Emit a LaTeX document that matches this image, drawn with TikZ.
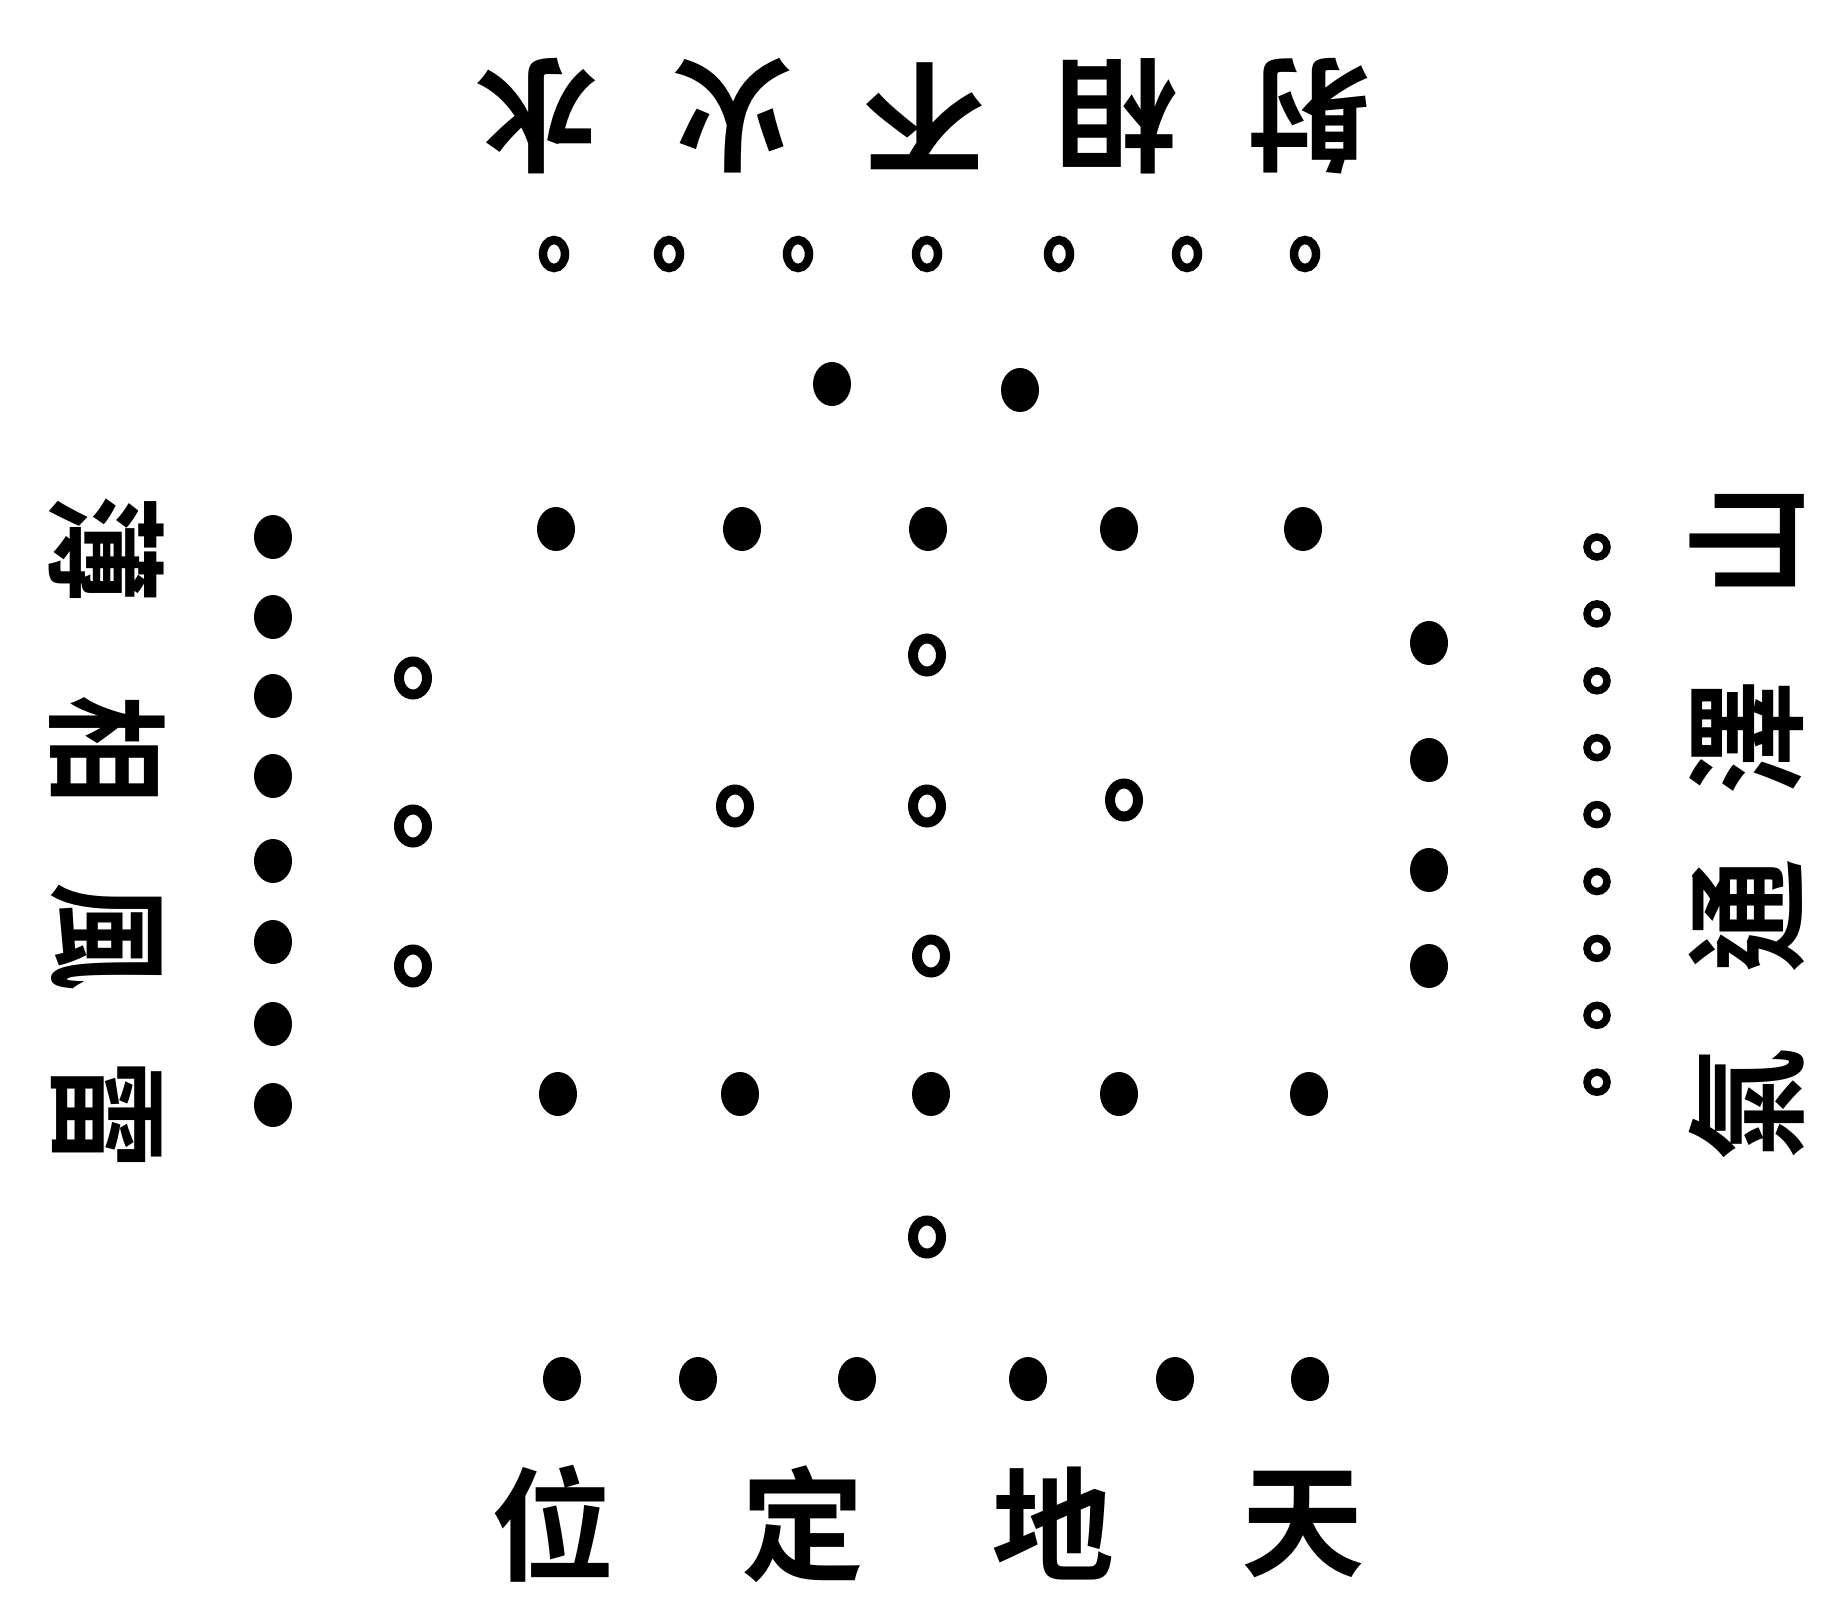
\documentclass[tikz,border=0pt]{standalone}
\usepackage{fontspec}
\newfontfamily\cjk{Noto Sans CJK TC Bold}
\usetikzlibrary{shapes.geometric}
\tikzset{
  yin/.style={ellipse, fill=black, inner sep=0pt, minimum width=7.6mm, minimum height=8.8mm},
  yang/.style={ellipse, draw=black, line width=2mm, fill=white, inner sep=0pt, minimum width=5.6mm, minimum height=6.6mm},
  yangs/.style={ellipse, draw=black, line width=1.7mm, fill=white, inner sep=0pt, minimum width=4.4mm, minimum height=5.6mm},
  glyph/.style={font=\cjk\fontsize{70pt}{70pt}\selectfont, inner sep=0pt},
}

\begin{document}
\begin{tikzpicture}[x=0.2mm, y=-0.2mm]
  \useasboundingbox (0,0) rectangle (1824,1607);
  % words round the square
  \foreach \c/\x [count=\i] in {水/537, 火/733, 不/925, 相/1117, 射/1309}
    \node[glyph, rotate=180] (top\i) at (\x,116) {\c};
  \foreach \c/\x [count=\i] in {位/553, 定/803, 地/1053, 天/1303}
    \node[glyph] (bot\i) at (\x,1524) {\c};
  \foreach \c/\y [count=\i] in {薄/550, 相/750, 風/937, 雷/1115}
    \node[glyph, rotate=-90] (lft\i) at (107,\y) {\scalebox{0.88}[1]{\c}};
  \foreach \c/\y [count=\i] in {山/541, 澤/738, 通/916, 氣/1104}
    \node[glyph, rotate=90] (rgt\i) at (1747,\y) {\scalebox{0.92}[1]{\c}};
  % top: seven and two
  \foreach \x [count=\i] in {554,669,798,927,1059,1187,1305}
    \node[yangs] (sev\i) at (\x,254) {};
  \node[yin] (two1) at (832,384) {};
  \node[yin] (two2) at (1020,390) {};
  % centre: ten round five
  \foreach \x [count=\i] in {556,742,928,1119,1303}
    \node[yin] (tna\i) at (\x,529) {};
  \foreach \x [count=\i] in {558,740,931,1119,1309}
    \node[yin] (tnb\i) at (\x,1094) {};
  \node[yang] (fiv1) at (927,655) {};
  \node[yang] (fiv2) at (735,806) {};
  \node[yang] (fiv3) at (927,806) {};
  \node[yang] (fiv4) at (1124,800) {};
  \node[yang] (fiv5) at (931,956) {};
  % bottom: one and six
  \node[yang] (one) at (927,1237) {};
  \foreach \x [count=\i] in {562,698,857,1028,1175,1310}
    \node[yin] (six\i) at (\x,1379) {};
  % left: eight and three
  \foreach \y [count=\i] in {537,617,696,776,861,942,1024,1105}
    \node[yin] (eig\i) at (273,\y) {};
  \foreach \y [count=\i] in {678,826,966}
    \node[yang] (thr\i) at (413,\y) {};
  % right: four and nine
  \foreach \y [count=\i] in {643,760,870,966}
    \node[yin] (fou\i) at (1429,\y) {};
  \foreach \i in {1,...,9}
    \node[yangs, line width=1.5mm, minimum width=4mm, minimum height=4mm] (nin\i) at (1597,{547+66.9*(\i-1)}) {};
\end{tikzpicture}
\end{document}
